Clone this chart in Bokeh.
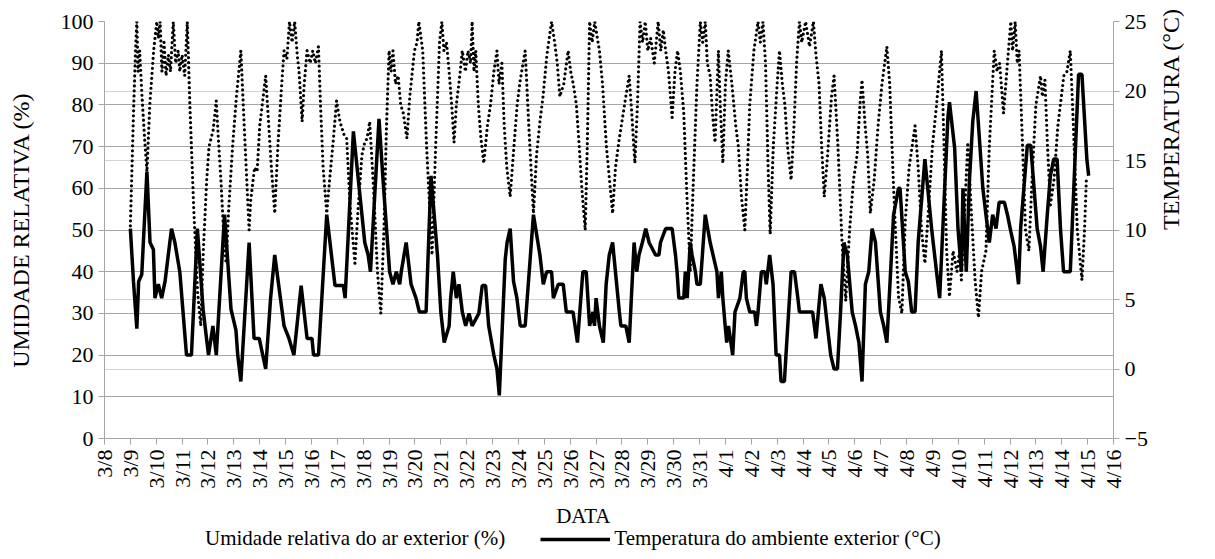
import math
from bokeh.plotting import figure
from bokeh.layouts import column
from bokeh.models import Range1d, LinearAxis, FixedTicker, Grid, Legend, LegendItem, Label
from bokeh.embed import file_html
from bokeh.resources import INLINE

# x axis: days since 3/8 00:00, one tick per day
tick_labels = ["3/8", "3/9", "3/10", "3/11", "3/12", "3/13", "3/14", "3/15", "3/16", "3/17",
               "3/18", "3/19", "3/20", "3/21", "3/22", "3/23", "3/24", "3/25", "3/26", "3/27",
               "3/28", "3/29", "3/30", "3/31", "4/1", "4/2", "4/3", "4/4", "4/5", "4/6",
               "4/7", "4/8", "4/9", "4/10", "4/11", "4/12", "4/13", "4/14", "4/15", "4/16"]
rh_ticks = [0, 10, 20, 30, 40, 50, 60, 70, 80, 90, 100]
temp_ticks = [-5, 0, 5, 10, 15, 20, 25]

# Relative humidity (%) - time in days since 3/8
hum_t = [1.00, 1.13, 1.20, 1.25, 1.30, 1.36, 1.45, 1.55, 1.64, 1.75, 1.90, 2.02, 2.08, 2.15, 2.22,
         2.30, 2.38, 2.47, 2.55, 2.66, 2.75, 2.85, 2.91, 3.00, 3.10, 3.20, 3.30, 3.45, 3.60, 3.72,
         3.82, 3.95, 4.04, 4.20, 4.32, 4.40, 4.50, 4.60, 4.70, 4.80, 4.95, 5.10, 5.27, 5.40, 5.59,
         5.65, 5.80, 5.90, 6.00, 6.23, 6.35, 6.45, 6.58, 6.70, 6.85, 6.94, 7.05, 7.15, 7.25, 7.35,
         7.45, 7.52, 7.64, 7.72, 7.83, 7.95, 8.05, 8.15, 8.27, 8.35, 8.45, 8.59, 8.70, 8.85, 8.97,
         9.10, 9.25, 9.36, 9.50, 9.68, 9.80, 9.95, 10.06, 10.15, 10.25, 10.40, 10.55, 10.68, 10.80, 10.90,
         11.00, 11.08, 11.15, 11.25, 11.35, 11.45, 11.55, 11.69, 11.80, 11.98, 12.08, 12.15, 12.30, 12.45, 12.66,
         12.80, 12.95, 13.04, 13.12, 13.22, 13.32, 13.42, 13.51, 13.60, 13.75, 13.83, 13.95, 14.05, 14.15, 14.21,
         14.28, 14.35, 14.45, 14.55, 14.66, 14.80, 14.92, 15.05, 15.17, 15.25, 15.36, 15.45, 15.55, 15.68, 15.80,
         15.95, 16.07, 16.26, 16.40, 16.58, 16.70, 16.83, 16.95, 17.10, 17.28, 17.40, 17.50, 17.60, 17.75, 17.92,
         18.02, 18.12, 18.24, 18.35, 18.45, 18.58, 18.66, 18.75, 18.85, 18.95, 19.05, 19.13, 19.25, 19.40, 19.55,
         19.64, 19.75, 19.90, 20.00, 20.15, 20.28, 20.38, 20.50, 20.60, 20.70, 20.80, 20.90, 21.00, 21.11, 21.25,
         21.40, 21.50, 21.60, 21.69, 21.80, 21.94, 22.05, 22.15, 22.26, 22.39, 22.50, 22.64, 22.75, 22.90, 23.03,
         23.12, 23.22, 23.30, 23.41, 23.50, 23.60, 23.73, 23.80, 23.90, 24.00, 24.11, 24.25, 24.40, 24.50, 24.62,
         24.75, 24.85, 24.94, 25.10, 25.26, 25.35, 25.45, 25.55, 25.65, 25.73, 25.85, 26.00, 26.09, 26.20, 26.30,
         26.40, 26.54, 26.65, 26.75, 26.86, 26.95, 27.10, 27.25, 27.40, 27.50, 27.62, 27.72, 27.82, 27.95, 28.10,
         28.20, 28.35, 28.50, 28.65, 28.80, 28.95, 29.09, 29.20, 29.28, 29.40, 29.50, 29.60, 29.75, 29.90, 30.05,
         30.24, 30.35, 30.50, 30.69, 30.82, 30.95, 31.10, 31.33, 31.45, 31.58, 31.71, 31.85, 32.00, 32.16, 32.35,
         32.45, 32.55, 32.66, 32.80, 32.95, 33.05, 33.12, 33.25, 33.37, 33.50, 33.65, 33.78, 33.90, 34.07, 34.20,
         34.39, 34.50, 34.60, 34.75, 34.90, 35.03, 35.10, 35.20, 35.28, 35.35, 35.48, 35.60, 35.73, 35.85, 36.00,
         36.18, 36.25, 36.35, 36.45, 36.56, 36.70, 36.85, 37.08, 37.20, 37.33, 37.45, 37.60, 37.78, 37.88, 37.95]
hum_v = [51, 80, 93, 100, 88, 93, 82, 72, 64, 80, 93, 100, 96, 100, 88,
         95, 87, 92, 88, 100, 90, 93, 88, 92, 87, 100, 80, 55, 35, 27,
         45, 62, 70, 74, 81, 72, 62, 50, 42, 55, 70, 82, 93, 75, 50,
         57, 65, 64, 75, 87, 75, 65, 54, 70, 85, 93, 91, 100, 95, 100,
         92, 88, 76, 85, 93, 90, 93, 90, 94, 80, 65, 54, 62, 72, 81,
         76, 73, 72, 55, 42, 55, 68, 71, 72, 76, 60, 40, 30, 50, 75,
         93, 88, 93, 85, 87, 80, 78, 72, 82, 93, 95, 100, 93, 70, 44,
         70, 95, 100, 93, 95, 88, 80, 71, 80, 88, 93, 88, 93, 90, 100,
         88, 93, 80, 72, 66, 75, 80, 88, 93, 85, 90, 75, 65, 58, 68,
         80, 86, 93, 75, 54, 68, 76, 82, 92, 100, 95, 90, 82, 85, 93,
         88, 85, 80, 70, 60, 50, 70, 100, 95, 100, 96, 93, 85, 70, 60,
         54, 65, 72, 76, 82, 87, 78, 66, 80, 100, 95, 100, 93, 96, 90,
         100, 93, 98, 93, 88, 77, 88, 93, 88, 78, 60, 40, 60, 85, 100,
         95, 100, 90, 87, 78, 71, 93, 80, 66, 85, 93, 85, 75, 70, 58,
         50, 65, 80, 93, 100, 95, 100, 90, 65, 49, 70, 85, 93, 85, 80,
         70, 62, 75, 90, 100, 95, 100, 94, 100, 92, 85, 70, 58, 68, 82,
         87, 70, 48, 33, 50, 62, 68, 80, 86, 75, 68, 54, 62, 75, 85,
         94, 85, 60, 34, 30, 52, 65, 75, 65, 50, 42, 55, 70, 80, 93,
         70, 45, 34, 45, 40, 45, 38, 55, 71, 55, 38, 29, 40, 45, 70,
         93, 88, 90, 78, 90, 100, 93, 100, 90, 93, 71, 50, 45, 62, 80,
         87, 82, 86, 70, 56, 62, 75, 87, 88, 93, 75, 50, 38, 50, 62]

# Outdoor temperature (deg C) - time in days since 3/8
temp_t = [1.00, 1.12, 1.25, 1.32, 1.44, 1.64, 1.76, 1.89, 1.95, 2.08, 2.21, 2.34, 2.59, 2.72, 2.91,
          3.17, 3.36, 3.59, 3.81, 4.02, 4.19, 4.32, 4.64, 4.89, 5.08, 5.15, 5.27, 5.59, 5.78, 5.98,
          6.23, 6.42, 6.58, 6.94, 7.13, 7.32, 7.60, 7.83, 8.02, 8.08, 8.27, 8.59, 8.91, 9.23, 9.30,
          9.62, 10.06, 10.19, 10.28, 10.61, 10.77, 11.02, 11.15, 11.28, 11.41, 11.47, 11.66, 11.85, 12.04, 12.17,
          12.43, 12.62, 12.87, 13.00, 13.13, 13.32, 13.38, 13.48, 13.60, 13.70, 13.83, 13.96, 14.09, 14.21, 14.47,
          14.60, 14.73, 14.85, 15.05, 15.17, 15.26, 15.49, 15.56, 15.68, 15.81, 15.94, 16.07, 16.26, 16.58, 16.83,
          16.96, 17.09, 17.28, 17.35, 17.54, 17.73, 17.85, 18.11, 18.28, 18.49, 18.62, 18.75, 18.88, 18.94, 19.00,
          19.13, 19.28, 19.39, 19.51, 19.64, 19.90, 19.96, 20.15, 20.28, 20.47, 20.57, 20.66, 20.79, 20.92, 21.05,
          21.30, 21.43, 21.49, 21.69, 21.94, 22.07, 22.13, 22.20, 22.39, 22.45, 22.52, 22.64, 22.71, 22.84, 22.90,
          23.03, 23.22, 23.41, 23.67, 23.73, 23.84, 23.90, 23.99, 24.05, 24.12, 24.28, 24.37, 24.56, 24.69, 24.75,
          24.81, 24.94, 25.13, 25.20, 25.26, 25.39, 25.52, 25.58, 25.71, 25.84, 25.96, 26.09, 26.15, 26.28, 26.34,
          26.54, 26.67, 26.80, 26.86, 27.37, 27.50, 27.69, 27.82, 27.94, 28.07, 28.20, 28.33, 28.45, 28.58, 28.71,
          28.90, 29.03, 29.16, 29.28, 29.41, 29.54, 29.67, 29.80, 29.99, 30.12, 30.24, 30.50, 30.69, 30.75, 30.95,
          31.07, 31.20, 31.33, 31.45, 31.71, 31.97, 32.03, 32.16, 32.28, 32.60, 32.66, 32.86, 32.99, 33.12, 33.18,
          33.24, 33.31, 33.43, 33.56, 33.69, 33.95, 34.07, 34.20, 34.33, 34.46, 34.58, 34.78, 34.90, 35.03, 35.16,
          35.22, 35.33, 35.41, 35.67, 35.80, 36.05, 36.18, 36.28, 36.44, 36.56, 36.69, 36.82, 36.95, 37.07, 37.33,
          37.65, 37.78, 37.97, 38.04]
temp_c = [10.1, 6.3, 2.9, 6.3, 6.8, 14.2, 9.1, 8.6, 5.1, 6.1, 5.1, 6.3, 10.1, 9.1, 7.0,
          1.0, 1.0, 10.1, 4.3, 1.0, 3.1, 1.0, 11.1, 4.3, 2.8, 1.0, -0.9, 9.1, 2.2, 2.2,
          0.0, 5.1, 8.2, 3.1, 2.2, 1.0, 6.0, 2.2, 2.2, 1.0, 1.0, 11.1, 6.0, 6.0, 5.1,
          17.1, 9.1, 8.2, 7.0, 18.0, 13.5, 7.0, 6.1, 7.0, 6.1, 7.0, 9.1, 6.1, 5.1, 4.1,
          4.1, 13.9, 8.2, 4.1, 1.9, 3.1, 5.1, 7.0, 5.1, 6.1, 4.1, 3.1, 4.0, 3.1, 4.0,
          6.0, 6.0, 3.1, 1.0, 0.0, -1.9, 7.9, 9.1, 10.1, 6.3, 5.1, 3.1, 3.1, 11.1, 8.2,
          6.1, 7.0, 7.0, 5.1, 6.1, 6.1, 4.1, 4.1, 1.9, 7.0, 7.0, 3.1, 4.1, 3.1, 5.1,
          3.1, 1.9, 6.1, 8.2, 9.1, 4.1, 3.1, 3.1, 1.9, 9.1, 7.0, 8.2, 9.1, 10.1, 9.1,
          8.2, 8.2, 9.1, 10.1, 10.1, 8.2, 7.0, 5.1, 5.1, 7.0, 5.1, 9.1, 8.2, 7.0, 6.1,
          6.1, 11.1, 9.1, 7.0, 5.1, 7.0, 5.1, 3.1, 1.9, 3.1, 1.0, 4.1, 5.1, 7.0, 7.0,
          5.1, 4.1, 4.1, 3.1, 4.1, 7.0, 7.0, 6.1, 8.2, 6.1, 1.0, 1.0, -0.9, -0.9, 1.0,
          7.0, 7.0, 5.1, 4.1, 4.1, 2.2, 6.1, 5.1, 3.1, 1.0, 0.0, 0.0, 4.1, 9.1, 8.2,
          4.1, 3.1, 1.9, -0.9, 6.1, 7.0, 10.1, 9.1, 4.1, 3.1, 1.9, 11.1, 13.0, 13.0, 7.0,
          6.3, 4.1, 4.1, 9.1, 15.1, 10.1, 9.1, 7.0, 5.1, 18.1, 19.2, 15.9, 10.1, 7.0, 13.0,
          10.1, 7.0, 13.5, 17.8, 20.0, 13.0, 11.1, 9.1, 11.1, 10.1, 12.0, 12.0, 11.1, 9.9, 8.8,
          7.9, 6.1, 10.1, 16.1, 16.1, 10.1, 8.8, 7.0, 11.1, 13.9, 15.1, 15.1, 10.1, 7.0, 7.0,
          21.2, 21.2, 15.1, 13.9]

FONT = "Liberation Serif"
GRID = "#a6a6a6"
HUM_STYLE = dict(line_color="black", line_width=3.2, line_dash="0 5", line_cap="round")
TEMP_STYLE = dict(line_color="black", line_width=3.5)

p = figure(width=1199, height=496, output_backend="svg", toolbar_location=None,
           x_range=Range1d(0, len(tick_labels) - 1), y_range=Range1d(rh_ticks[0], rh_ticks[-1]),
           min_border_left=104, min_border_right=77, min_border_top=21, min_border_bottom=58)
p.extra_y_ranges = {"temp": Range1d(temp_ticks[0], temp_ticks[-1])}
p.outline_line_color = None

# grids
p.xgrid.grid_line_color = None
p.ygrid.ticker = FixedTicker(ticks=rh_ticks)
p.ygrid.grid_line_color = GRID
p.ygrid.grid_line_width = 1
g2 = Grid(dimension=1, ticker=FixedTicker(ticks=temp_ticks[1:-1]), y_range_name="temp",
          grid_line_color=GRID, grid_line_dash="1 1", grid_line_width=1)
p.add_layout(g2)

# series
p.line(hum_t, hum_v, **HUM_STYLE)
p.line(temp_t, temp_c, y_range_name="temp", **TEMP_STYLE)

def style_axis(ax, label_size="22px", title_size="24px"):
    ax.axis_line_color = GRID
    ax.major_tick_line_color = GRID
    ax.major_tick_out = 6
    ax.major_tick_in = 0
    ax.minor_tick_line_color = None
    ax.major_label_text_font = FONT
    ax.major_label_text_font_size = label_size
    ax.major_label_text_color = "black"
    ax.axis_label_text_font = FONT
    ax.axis_label_text_font_size = title_size
    ax.axis_label_text_font_style = "normal"
    ax.axis_label_text_color = "black"

xa = p.xaxis[0]
xa.ticker = FixedTicker(ticks=list(range(len(tick_labels))))
xa.major_label_overrides = {i: s for i, s in enumerate(tick_labels)}
xa.major_label_orientation = math.pi / 2
style_axis(xa)

ya = p.yaxis[0]
ya.ticker = FixedTicker(ticks=rh_ticks)
ya.axis_label = "UMIDADE RELATIVA (%)"
style_axis(ya)
ya.axis_label_standoff = 24

ra = LinearAxis(y_range_name="temp", ticker=FixedTicker(ticks=temp_ticks),
                axis_label="TEMPERATURA (°C)")
style_axis(ra)
ra.axis_label_standoff = 20
ra.axis_label_orientation = math.pi / 2
p.add_layout(ra, "right")

# strip below the chart: x-axis title and legend (pixel-like data ranges)
SW, SH = 1199, 55
pl = figure(width=SW, height=SH, output_backend="svg", toolbar_location=None,
            x_range=Range1d(0, SW), y_range=Range1d(0, SH),
            x_axis_location=None, y_axis_location=None,
            min_border=0, min_border_left=0, min_border_right=0, min_border_top=0, min_border_bottom=0)
pl.outline_line_color = None
pl.grid.grid_line_color = None
pl.add_layout(Label(x=569, y=36, text="DATA", text_font=FONT, text_font_size="21px",
                    text_align="center", text_baseline="middle", text_color="black"))
leg_hum = pl.line([-10, -9], [-10, -9], line_alpha=0)
leg_temp = pl.line([-10, -9], [-10, -9], **TEMP_STYLE)
legend = Legend(items=[LegendItem(label="Umidade relativa do ar exterior (%)", renderers=[leg_hum]),
                       LegendItem(label="Temperatura do ambiente exterior (°C)", renderers=[leg_temp])],
                orientation="horizontal", location=(27, 0), border_line_color=None,
                background_fill_alpha=0, label_text_font=FONT, label_text_font_size="21px",
                label_text_color="black",
                glyph_width=70, glyph_height=20, label_height=20, label_standoff=4, spacing=35,
                padding=0, margin=0)
pl.add_layout(legend)

layout = column(p, pl, spacing=0)
open("out.html", "w").write(file_html(layout, INLINE))
